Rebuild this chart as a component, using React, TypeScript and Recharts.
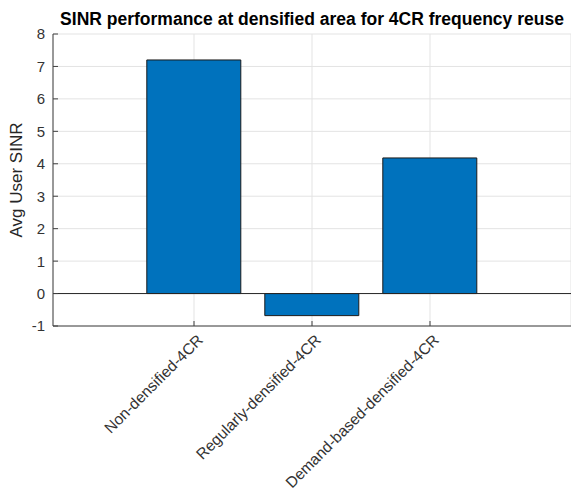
import { BarChart, Bar, XAxis, YAxis, CartesianGrid, ReferenceLine } from 'recharts';

const categories = ['Non-densified-4CR', 'Regularly-densified-4CR', 'Demand-based-densified-4CR'];
const sinrValues = [7.2, -0.68, 4.18];
const yTicks = [-1, 0, 1, 2, 3, 4, 5, 6, 7, 8];

const data = categories.map((name, i) => ({ name, sinr: sinrValues[i] }));

const W = 571;
const H = 495;
const PLOT_LEFT = 53;
const PLOT_TOP = 34;
const PLOT_BOTTOM = 326;
const PLOT_RIGHT = 571;
const AXIS_COLOR = '#404040';
const FONT = '"Liberation Sans", Arial, sans-serif';

function LeftTick({ y, payload }: any) {
  return (
    <g>
      <line x1={PLOT_LEFT} x2={PLOT_LEFT + 5} y1={y} y2={y} stroke={AXIS_COLOR} />
      <text x={PLOT_LEFT - 8} y={y} dy="0.36em" textAnchor="end" fontSize={15} fill="#333" fontFamily={FONT}>
        {payload.value}
      </text>
    </g>
  );
}

function RightTick({ y }: any) {
  return <line x1={PLOT_RIGHT - 5} x2={PLOT_RIGHT} y1={y} y2={y} stroke={AXIS_COLOR} />;
}

function BottomTick({ x, payload }: any) {
  const ax = x + 10;
  const ay = PLOT_BOTTOM + 15;
  return (
    <g>
      <line x1={x} x2={x} y1={PLOT_BOTTOM} y2={PLOT_BOTTOM - 5} stroke={AXIS_COLOR} />
      <text
        x={ax}
        y={ay}
        textAnchor="end"
        fontSize={15.5}
        fill="#333"
        fontFamily={FONT}
        transform={`rotate(-45 ${ax} ${ay})`}
      >
        {payload.value}
      </text>
    </g>
  );
}

function TopTick({ x }: any) {
  return <line x1={x} x2={x} y1={PLOT_TOP} y2={PLOT_TOP + 5} stroke={AXIS_COLOR} />;
}

export default function App() {
  return (
    <div style={{ position: 'absolute', left: 0, top: 0, width: W, height: H, background: '#fff' }}>
      <BarChart
        width={W}
        height={H}
        data={data}
        margin={{ top: PLOT_TOP, right: W - PLOT_RIGHT, bottom: 0, left: 0 }}
        barCategoryGap="10%"
      >
        <CartesianGrid stroke="#e3e3e3" />
        <XAxis
          dataKey="name"
          height={H - PLOT_BOTTOM}
          padding={{ left: 82, right: 82 }}
          axisLine={{ stroke: AXIS_COLOR }}
          tickLine={false}
          tick={<BottomTick />}
          interval={0}
        />
        <XAxis
          xAxisId="top"
          dataKey="name"
          orientation="top"
          height={0}
          padding={{ left: 82, right: 82 }}
          axisLine={{ stroke: AXIS_COLOR }}
          tickLine={false}
          tick={<TopTick />}
          interval={0}
        />
        <YAxis
          type="number"
          domain={[-1, 8]}
          ticks={yTicks}
          interval={0}
          width={PLOT_LEFT}
          allowDataOverflow
          axisLine={{ stroke: AXIS_COLOR }}
          tickLine={false}
          tick={<LeftTick />}
        />
        <YAxis
          yAxisId="right"
          orientation="right"
          type="number"
          domain={[-1, 8]}
          ticks={yTicks}
          interval={0}
          width={0}
          axisLine={{ stroke: AXIS_COLOR }}
          tickLine={false}
          tick={<RightTick />}
        />
        <Bar dataKey="sinr" fill="#0072BD" stroke="#1a1a1a" strokeWidth={1} isAnimationActive={false} />
        <ReferenceLine y={0} stroke="#262626" strokeWidth={1} />
      </BarChart>
      <svg
        width={W}
        height={H}
        style={{ position: 'absolute', left: 0, top: 0, pointerEvents: 'none' }}
      >
        <text
          x={(PLOT_LEFT + PLOT_RIGHT) / 2}
          y={25}
          textAnchor="middle"
          fontSize={17.5}
          fontWeight="bold"
          fill="#000"
          fontFamily={FONT}
        >
          SINR performance at densified area for 4CR frequency reuse
        </text>
        <text
          x={22}
          y={(PLOT_TOP + PLOT_BOTTOM) / 2}
          textAnchor="middle"
          fontSize={17}
          fill="#262626"
          fontFamily={FONT}
          transform={`rotate(-90 22 ${(PLOT_TOP + PLOT_BOTTOM) / 2})`}
        >
          Avg User SINR
        </text>
      </svg>
    </div>
  );
}
